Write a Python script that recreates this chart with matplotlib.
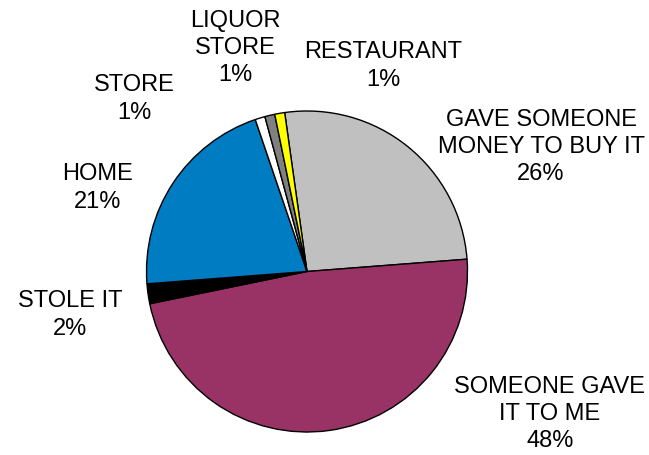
import matplotlib.pyplot as plt

plt.rcParams['font.family'] = ['Liberation Sans', 'DejaVu Sans']

# Data (clockwise from the top)
categories = ['GAVE SOMEONE\nMONEY TO BUY IT', 'SOMEONE GAVE\nIT TO ME', 'STOLE IT',
              'HOME', 'STORE', 'LIQUOR\nSTORE', 'RESTAURANT']
values = [26, 48, 2, 21, 1, 1, 1]
colors = ['#C0C0C0', '#993366', '#000000', '#007CC3', '#FFFFFF', '#808080', '#FFFF00']

# label centres in pixel coords (x, y from top)
label_pos = [(541, 147), (550, 414), (70, 315), (98, 188), (134, 99), (235, 48), (383, 66)]

W, H = 649, 455
fig = plt.figure(figsize=(W / 100, H / 100), dpi=100)
ax = fig.add_axes([0, 0, 1, 1])

ax.pie(values, colors=colors, startangle=98, counterclock=False,
       center=(307, H - 271.5), radius=160.5,
       wedgeprops=dict(edgecolor='black', linewidth=1))

for name, v, (x, y) in zip(categories, values, label_pos):
    ax.text(x, H - y, f'{name}\n{v}%', ha='center', va='center',
            fontsize=17, linespacing=1.3, color='black')

ax.set_xlim(0, W)
ax.set_ylim(0, H)
ax.set_aspect('equal')
ax.axis('off')

fig.savefig('out.png', dpi=100)
